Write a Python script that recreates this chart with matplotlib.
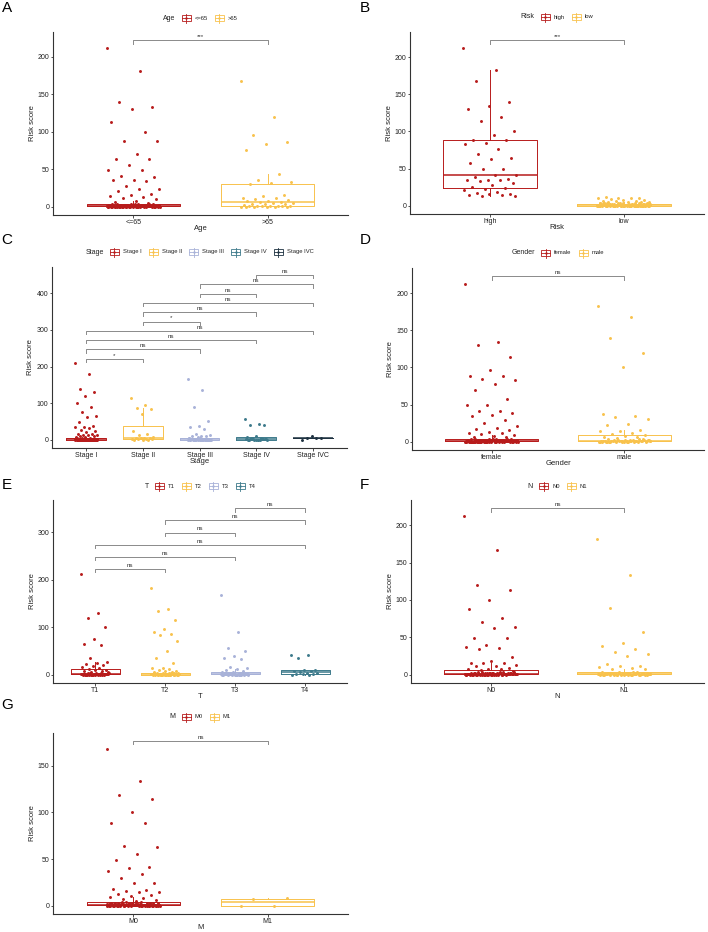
import numpy as np
import matplotlib
matplotlib.use("Agg")
import matplotlib.pyplot as plt
from matplotlib.patches import Rectangle

plt.rcParams['font.family'] = ['Liberation Sans', 'DejaVu Sans']

W, H = 708, 932

RED = "#B71B1B"
YELLOW = "#F8C24C"
LAVENDER = "#A8B2D8"
TEAL = "#3D7A8B"
NAVY = "#1D3140"

# small risk scores (0-4) that make up the crowded band at the bottom of most groups
LOW_SCORES = [
    0.3, 1.2, 0.0, 2.4, 0.8, 0.1, 3.1, 0.5, 1.7, 0.2,
    0.9, 0.0, 1.4, 0.4, 2.8, 0.6, 0.1, 1.0, 3.6, 0.3,
    0.7, 2.1, 0.0, 1.3, 0.2, 0.5, 1.9, 0.1, 0.8, 2.6,
    0.4, 0.0, 1.1, 3.3, 0.6, 0.2, 1.5, 0.9, 0.0, 2.2,
    0.3, 1.6, 0.1, 0.7, 3.8, 0.4, 1.2, 0.0, 0.5, 2.0,
    0.2, 0.9, 1.8, 0.0, 0.6, 2.9, 0.3, 1.0, 0.1, 1.4,
    0.8, 0.0, 2.5, 0.4, 1.1, 0.2, 3.4, 0.7, 0.0, 1.6,
    0.5, 2.3, 0.1, 0.9, 0.3, 1.3, 0.0, 2.7, 0.6, 1.0,
    0.2, 3.0, 0.8, 0.0, 1.5, 0.4, 2.0, 0.1, 1.2, 0.7,
    0.0, 1.7, 0.3, 3.9, 0.5, 1.1, 0.2, 2.4, 0.9, 0.0,
    1.9, 0.4, 0.1, 2.2, 0.6, 1.3, 0.0, 3.2, 0.8, 0.3,
    0.5, 1.0, 2.6, 0.2, 0.0, 1.8, 0.7, 0.1, 3.5, 1.4,
]

# A - Age
age_labels = ["<=65", ">65"]
age_le65 = [211, 181, 139, 133, 130, 113, 100, 88, 88, 70, 64, 63, 56, 49, 49, 41, 39,
            36, 35, 34, 28, 24, 23, 21, 17, 16, 14, 13, 12, 10, 8, 6, 5] + LOW_SCORES[:102]
age_gt65 = [168, 120, 96, 86, 83, 76, 43, 35, 33, 31, 30, 16, 14, 12, 11, 10, 9, 8, 7, 6,
            6, 5, 5, 4, 4, 3, 2, 1.5, 1, 0.8, 0.6, 0.5, 0.4, 0.3, 0.2, 0.2, 0.1, 0.1, 0, 0]

# B - Risk
risk_labels = ["high", "low"]
risk_high = [212, 182, 168, 140, 134, 130, 120, 114, 101, 95, 89, 89, 85, 83, 76, 70, 64,
             63, 57, 49, 49, 42, 41, 38, 36, 35, 35, 34, 33, 30, 28, 25, 24, 23, 21, 18,
             17, 16, 16, 15, 14, 13, 13]
risk_low = LOW_SCORES + [12, 11, 11, 10, 10, 9, 8, 8, 7, 6, 6, 5, 5, 5, 4.5, 4, 4]

# C - Stage
stage_labels = ["Stage I", "Stage II", "Stage III", "Stage IV", "Stage IVC"]
stage_1 = [211, 181, 139, 130, 120, 100, 89, 77, 64, 63, 49, 38, 36, 35, 32, 28, 24, 21,
           17, 16, 14, 13, 12, 10, 9, 8, 7, 6, 5] + LOW_SCORES[:88]
stage_2 = [113, 96, 86, 84, 71, 25, 16, 12, 8, 6, 6, 5, 5, 3, 2, 1, 1, 0.5, 0, 0]
stage_3 = [167, 135, 89, 50, 37, 34, 29, 16, 12, 11, 10, 9, 8, 6] + LOW_SCORES[60:105]
stage_4 = [58, 43, 41, 39, 10, 8, 6, 5] + LOW_SCORES[100:116]
stage_4c = [0.2, 4.5, 5.5, 6, 9]
stage_tests = [("Stage I", "Stage II", "*"), ("Stage I", "Stage III", "ns"),
               ("Stage I", "Stage IV", "ns"), ("Stage I", "Stage IVC", "ns"),
               ("Stage II", "Stage III", "*"), ("Stage II", "Stage IV", "ns"),
               ("Stage II", "Stage IVC", "ns"), ("Stage III", "Stage IV", "ns"),
               ("Stage III", "Stage IVC", "ns"), ("Stage IV", "Stage IVC", "ns")]

# D - Gender
gender_labels = ["female", "male"]
gender_female = [212, 134, 130, 114, 96, 89, 89, 85, 83, 77, 70, 57, 49, 49, 42, 41, 39, 36,
                 35, 29, 25, 21, 18, 17, 16, 13, 12, 12, 10, 9, 8, 7, 6] + LOW_SCORES[:100]
gender_male = [182, 168, 139, 120, 101, 37, 35, 33, 30, 24, 23, 16, 15, 14, 12, 10, 9, 8, 7,
               6, 5] + LOW_SCORES[70:115]

# E - T
t_labels = ["T1", "T2", "T3", "T4"]
t_1 = [212, 130, 120, 101, 76, 64, 63, 35, 27, 25, 23, 21, 18, 16, 14, 12, 10, 9, 8, 7, 6,
       5] + LOW_SCORES[:40]
t_2 = [182, 139, 134, 114, 97, 90, 85, 83, 71, 49, 36, 25, 14, 13, 12, 10, 8, 7, 6,
       5] + LOW_SCORES[40:100]
t_3 = [168, 90, 57, 49, 39, 36, 32, 17, 13, 11, 9, 8, 6, 5] + LOW_SCORES[80:120]
t_4 = [42, 41, 35, 10, 9, 8, 7, 5, 4, 3, 2, 1, 0.5, 0.2, 0]
t_tests = [("T1", "T2", "ns"), ("T1", "T3", "ns"), ("T1", "T4", "ns"),
           ("T2", "T3", "ns"), ("T2", "T4", "ns"), ("T3", "T4", "ns")]

# F - N
n_labels = ["N0", "N1"]
n_0 = [212, 167, 120, 113, 100, 88, 76, 70, 64, 63, 49, 49, 40, 37, 36, 34, 24, 18, 16, 16,
       15, 13, 12, 11, 9, 8, 8, 7, 6, 5] + LOW_SCORES[:80]
n_1 = [181, 134, 89, 57, 42, 39, 35, 30, 28, 25, 14, 12, 12, 10, 9, 7, 7] + LOW_SCORES[50:110]

# G - M
m_labels = ["M0", "M1"]
m_0 = [168, 134, 119, 114, 101, 89, 89, 64, 63, 56, 49, 42, 41, 37, 34, 30, 24, 24, 18, 17,
       16, 15, 15, 13, 12, 11, 9, 8, 7, 6, 5] + LOW_SCORES[:95]
m_1 = [0, 0.2, 7, 8]

fig = plt.figure(figsize=(W / 100, H / 100), dpi=100)
canvas = fig.add_axes([0, 0, 1, 1], zorder=-1)
canvas.set_xlim(0, W)
canvas.set_ylim(H, 0)
canvas.set_autoscale_on(False)
canvas.axis("off")
renderer = fig.canvas.get_renderer()

AX_COL = "#333333"


def draw_legend(cx, cy, title, labels, colors):
    t = canvas.text(0, cy, title, fontsize=5, va="center", ha="left", color="#222222")
    tw = t.get_window_extent(renderer).width
    objs = [canvas.text(0, cy, l, fontsize=4.2, va="center", ha="left", color="#222222")
            for l in labels]
    widths = [o.get_window_extent(renderer).width for o in objs]
    kw, kh = 9, 6
    total = tw + 6 + sum(kw + 4 + w for w in widths) + 7 * (len(labels) - 1)
    x = cx - total / 2
    t.set_x(x)
    x += tw + 6
    for o, w, c in zip(objs, widths, colors):
        canvas.add_patch(Rectangle((x, cy - kh / 2), kw, kh, fill=False, ec=c, lw=0.6))
        canvas.plot([x, x + kw], [cy, cy], color=c, lw=0.6)
        canvas.plot([x + kw / 2] * 2, [cy - kh / 2 - 1.5, cy + kh / 2 + 1.5], color=c, lw=0.6)
        canvas.scatter([x + kw / 2], [cy], s=3, color=c, lw=0)
        x += kw + 4
        o.set_x(x)
        x += w + 7


def draw_panel(rect, letter, letter_xy, legend_y, var, labels, data, colors, tests, yticks):
    x0, y0, x1, y1 = rect
    ax = fig.add_axes([x0 / W, 1 - y1 / H, (x1 - x0) / W, (y1 - y0) / H])
    pos = np.arange(1, len(labels) + 1)
    for p, vals, c in zip(pos, data, colors):
        ax.boxplot([vals], positions=[p], widths=0.7, showfliers=False, showcaps=False,
                   boxprops=dict(color=c, lw=0.7), whiskerprops=dict(color=c, lw=0.7),
                   medianprops=dict(color=c, lw=1.1), zorder=2)
        # evenly spread horizontal jitter
        jit = ((np.arange(len(vals)) * 0.618034) % 1 - 0.5) * 0.4
        ax.scatter(p + jit, vals, s=4.5, color=c, lw=0, zorder=3)

    ymax = max(max(v) for v in data)
    base, step = 1.05 * ymax, 0.12 * ymax
    top = base + step * (len(tests) - 1)
    ymin_lim, ymax_lim = -0.05 * top, 1.05 * top
    tip = 0.018 * (ymax_lim - ymin_lim)
    for k, (a, b, lab) in enumerate(tests):
        xa, xb = labels.index(a) + 1, labels.index(b) + 1
        yb = base + k * step
        ax.plot([xa, xa, xb, xb], [yb - tip, yb, yb, yb - tip], color="#8a8a8a", lw=0.7,
                zorder=4)
        ax.annotate(lab, ((xa + xb) / 2, yb), xytext=(0, 0.8), textcoords="offset points",
                    ha="center", va="bottom", fontsize=4.5, color="#333333")

    ax.set_xlim(0.4, len(labels) + 0.6)
    ax.set_ylim(ymin_lim, ymax_lim)
    ax.set_xticks(pos)
    ax.set_xticklabels(labels)
    ax.set_yticks(yticks)
    for s in ["top", "right"]:
        ax.spines[s].set_visible(False)
    for s in ["left", "bottom"]:
        ax.spines[s].set_color(AX_COL)
        ax.spines[s].set_linewidth(0.8)
    ax.tick_params(length=1.8, width=0.6, pad=0.9, labelsize=5, colors=AX_COL,
                   labelcolor="#222222")
    ax.set_ylabel("Risk score", fontsize=5.5, color="#222222", va="center")
    ax.set_xlabel(var, fontsize=5.5, color="#222222", va="center")
    ax.yaxis.set_label_coords((32 - 53) / (x1 - x0), 0.5)
    ax.xaxis.set_label_coords(0.5, -13.5 / (y1 - y0))
    ax.set_facecolor("none")

    draw_legend((x0 + x1) / 2, legend_y, var, labels, colors)
    canvas.text(letter_xy[0], letter_xy[1], letter, fontsize=11, ha="left", va="center",
                color="black")
    return ax


draw_panel((53, 32, 348, 215), "A", (1.5, 8), 18, "Age", age_labels,
           [age_le65, age_gt65], [RED, YELLOW], [("<=65", ">65", "***")], [0, 50, 100, 150, 200])
draw_panel((410, 32, 704, 214), "B", (360, 8), 17, "Risk", risk_labels,
           [risk_high, risk_low], [RED, YELLOW], [("high", "low", "***")], [0, 50, 100, 150, 200])
draw_panel((52, 267, 347, 448), "C", (1.5, 240), 252, "Stage", stage_labels,
           [stage_1, stage_2, stage_3, stage_4, stage_4c], [RED, YELLOW, LAVENDER, TEAL, NAVY],
           stage_tests, [0, 100, 200, 300, 400])
draw_panel((412, 268, 704, 450), "D", (360, 240), 253, "Gender", gender_labels,
           [gender_female, gender_male], [RED, YELLOW], [("female", "male", "ns")],
           [0, 50, 100, 150, 200])
draw_panel((53, 500, 347, 683), "E", (1.5, 485), 486, "T", t_labels,
           [t_1, t_2, t_3, t_4], [RED, YELLOW, LAVENDER, TEAL], t_tests, [0, 100, 200, 300])
draw_panel((411, 500, 704, 683), "F", (360, 485), 486, "N", n_labels,
           [n_0, n_1], [RED, YELLOW], [("N0", "N1", "ns")], [0, 50, 100, 150, 200])
draw_panel((53, 733, 348, 914), "G", (1.5, 705), 717, "M", m_labels,
           [m_0, m_1], [RED, YELLOW], [("M0", "M1", "ns")], [0, 50, 100, 150])

fig.savefig("out.png", dpi=100, facecolor="white")
